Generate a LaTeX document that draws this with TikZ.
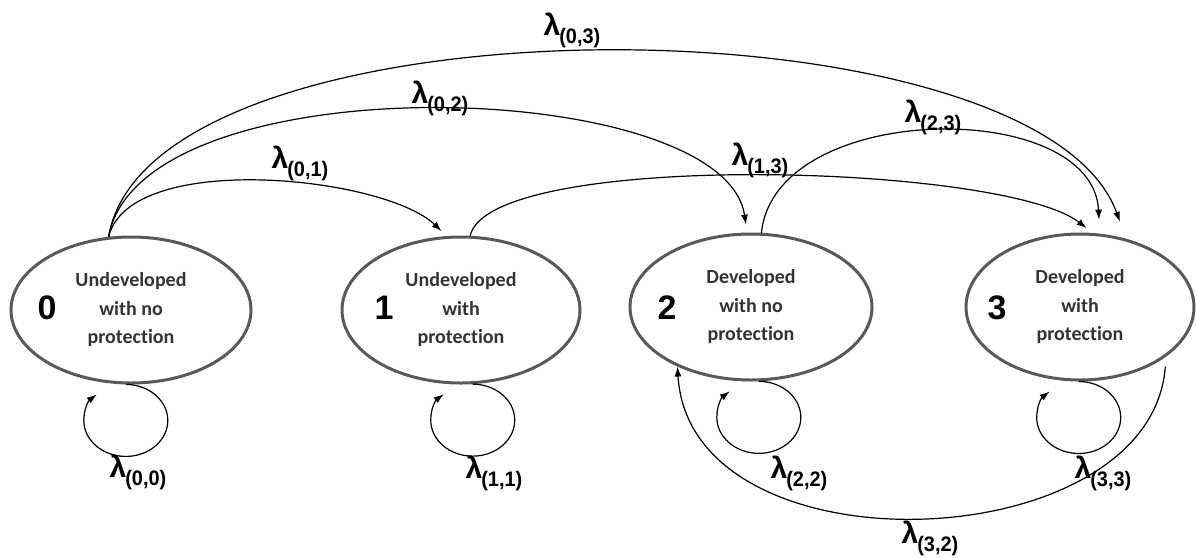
\documentclass[tikz,border=0pt]{standalone}
\usepackage{fontspec}
\usepackage{graphicx}
\setmainfont{Carlito}[Ligatures=CommonOff]
\newfontfamily\arialf{Liberation Sans}
\usetikzlibrary{shapes.geometric,arrows.meta}
\newcommand\statefont{\bfseries\fontsize{20}{28.5}\selectfont}
\newcommand\numfont{\arialf\bfseries\fontsize{34}{34}\selectfont}
\newcommand\lamlab[1]{\arialf\bfseries\fontsize{30}{30}\selectfont λ\kern-1pt\raisebox{-8pt}{\fontsize{21}{21}\selectfont\scalebox{0.95}[1]{(#1)}}}
\tikzset{
  stbox/.style={ellipse, draw=black!65, line width=3pt, inner sep=0pt, align=center,
                font=\statefont, text=black!80, minimum height=146pt},
  numlab/.style={font=\numfont, inner sep=0pt},
  tr/.style={line width=1.2pt, -{Latex[length=10pt,width=7pt]}},
  lab/.style={inner sep=0pt}
}
\begin{document}
\begin{tikzpicture}[x=1pt,y=-1pt]
\useasboundingbox (0,0) rectangle (1196,557);
% states
\node[stbox, minimum width=240pt] (e0) at (131,310) {Undeveloped\\with no\\protection};
\node[stbox, minimum width=238pt] (e1) at (461,310) {Undeveloped\\with\\protection};
\node[stbox, minimum width=242pt] (e2) at (751,307) {Developed\\with no\\protection};
\node[stbox, minimum width=228pt] (e3) at (1080,307) {Developed\\with\\protection};
\node[numlab] (n0) at (47,308) {0};
\node[numlab] (n1) at (384,308) {1};
\node[numlab] (n2) at (667,308) {2};
\node[numlab] (n3) at (997,308) {3};
% transitions over the top
\draw[tr, shorten >=18pt] (e0.107) .. controls (150,-10) and (1037,-7) .. (e3.56);
\draw[tr, shorten >=8pt] (e0.107) .. controls (140,60) and (724,76) .. (e2.93);
\draw[tr, shorten >=7pt] (e0.107) .. controls (130,150) and (384,176) .. (e1.101);
\draw[tr, shorten >=8pt] (e1.83) .. controls (490,150) and (1002,163) .. (e3.80);
\draw[tr, shorten >=14pt] (e2.82) .. controls (775,100) and (1093,97) .. (e3.75);
% transition under
\draw[tr, shorten <=10pt] (e3.-30) .. controls (1151,560) and (690,577) .. (e2.-141);
% self loops
\draw[tr, shift={(e0.-94)}] (0,0) .. controls (23,0) and (42,16) .. (42,36) .. controls (42,56) and (23,72) .. (0,72) .. controls (-23,72) and (-42,56) .. (-42,36) .. controls (-42,24) and (-37,16) .. (-29,10);
\draw[tr, shift={(e1.-81)}] (0,0) .. controls (23,0) and (42,16) .. (42,36) .. controls (42,56) and (23,72) .. (0,72) .. controls (-23,72) and (-42,56) .. (-42,36) .. controls (-42,24) and (-37,16) .. (-29,10);
\draw[tr, shift={(e2.-84.5)}] (0,0) .. controls (23,0) and (42,16) .. (42,36) .. controls (42,56) and (23,72) .. (0,72) .. controls (-23,72) and (-42,56) .. (-42,36) .. controls (-42,24) and (-37,16) .. (-29,10);
\draw[tr, shift={(e3.-91)}] (0,0) .. controls (23,0) and (42,16) .. (42,36) .. controls (42,56) and (23,72) .. (0,72) .. controls (-23,72) and (-42,56) .. (-42,36) .. controls (-42,24) and (-37,16) .. (-29,10);
% labels
\node[lab] (l03) at (572,30) {\lamlab{0,3}};
\node[lab] (l02) at (440,98) {\lamlab{0,2}};
\node[lab] (l01) at (300,163) {\lamlab{0,1}};
\node[lab] (l13) at (760,160) {\lamlab{1,3}};
\node[lab] (l23) at (933,117) {\lamlab{2,3}};
\node[lab] (l00) at (138,472) {\lamlab{0,0}};
\node[lab] (l11) at (494,473) {\lamlab{1,1}};
\node[lab] (l22) at (799,473) {\lamlab{2,2}};
\node[lab] (l33) at (1103,473) {\lamlab{3,3}};
\node[lab] (l32) at (930,538) {\lamlab{3,2}};
\end{tikzpicture}
\end{document}
